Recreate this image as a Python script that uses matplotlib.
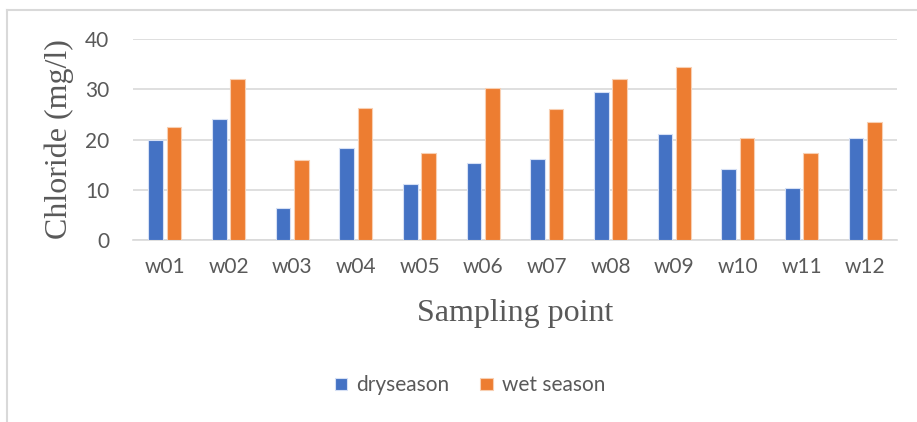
import matplotlib
matplotlib.use("Agg")
import matplotlib.pyplot as plt
import numpy as np
from matplotlib.lines import Line2D

categories = ["w01", "w02", "w03", "w04", "w05", "w06", "w07", "w08", "w09", "w10", "w11", "w12"]
dry_season = [20.0, 24.0, 6.4, 18.3, 11.1, 15.3, 16.2, 29.5, 21.1, 14.2, 10.4, 20.3]
wet_season = [22.5, 32.0, 15.9, 26.3, 17.4, 30.3, 26.0, 32.0, 34.4, 20.3, 17.4, 23.4]
y_ticks = [0, 10, 20, 30, 40]

W, H = 917, 422
fig = plt.figure(figsize=(W / 100, H / 100), dpi=100)
ax = fig.add_axes([133 / W, 1 - 240 / H, (897 - 133) / W, (240 - 39) / H])

tick_font = ["Lato", "DejaVu Sans"]
text_color = "#595959"

x = np.arange(len(categories))
bw = 0.23
gap = 0.03
ax.bar(x - bw / 2 - gap, dry_season, width=bw, color="#4472C4", edgecolor="#D6E0F5", linewidth=0.8,
       label="dryseason", zorder=3)
ax.bar(x + bw / 2 + gap, wet_season, width=bw, color="#ED7D31", edgecolor="#F8CFB2", linewidth=0.8,
       label="wet season", zorder=3)

ax.set_xlim(-0.5, len(categories) - 0.5)
ax.set_ylim(0, 40)
ax.set_yticks(y_ticks)
ax.set_xticks(x)
ax.set_xticklabels(categories)
ax.yaxis.grid(True, color="#D9D9D9", linewidth=1.2, zorder=0)
ax.set_axisbelow(True)
for s in ["top", "right", "left"]:
    ax.spines[s].set_visible(False)
ax.spines["bottom"].set_color("#D9D9D9")
ax.spines["bottom"].set_linewidth(1.2)
ax.tick_params(axis="both", length=0, labelcolor=text_color, labelsize=15)
ax.tick_params(axis="y", pad=17)
ax.tick_params(axis="x", pad=12)
for lbl in ax.get_xticklabels() + ax.get_yticklabels():
    lbl.set_family(tick_font)

ax.set_ylabel("Chloride (mg/l)", family=["Liberation Serif"], fontsize=23, color=text_color, labelpad=8)
ax.set_xlabel("Sampling point", family=["Liberation Serif"], fontsize=23, color=text_color, labelpad=16)

leg = fig.legend(loc="center", bbox_to_anchor=(470 / W, 1 - 385 / H), ncol=2, frameon=False,
                 prop={"family": tick_font, "size": 15}, handlelength=0.6, handleheight=0.5,
                 handletextpad=0.43, columnspacing=1.5)
for t in leg.get_texts():
    t.set_color(text_color)

# chart border (left and top)
fig.add_artist(Line2D([7 / W, 7 / W], [0, 1 - 10 / H], color="#D9D9D9", lw=1.5, transform=fig.transFigure))
fig.add_artist(Line2D([7 / W, 1], [1 - 10 / H, 1 - 10 / H], color="#D9D9D9", lw=1.5, transform=fig.transFigure))

fig.savefig("out.png", dpi=100)
